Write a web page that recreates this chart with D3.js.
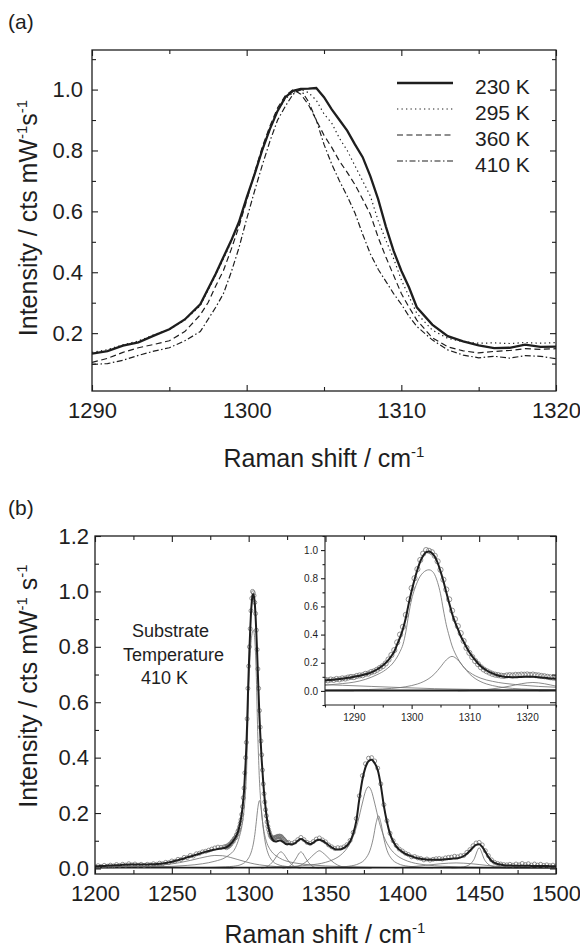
<!DOCTYPE html>
<html>
<head>
<meta charset="utf-8">
<script src="https://cdn.jsdelivr.net/npm/d3@7"></script>
<style>
  body { margin: 0; background: #fff; }
  svg text { font-family: "Liberation Sans", Arial, Helvetica, sans-serif; white-space: pre; }
</style>
</head>
<body>
<div id="chart"></div>
<script>
// ============================================================================
// Raman spectra: (a) temperature series, (b) 410 K spectrum with peak fit
// ============================================================================

// ---- panel (a) data -------------------------------------------------------
const shiftA = [1290, 1291, 1292, 1293, 1294, 1295, 1296, 1297, 1297.5, 1298, 1298.5, 1299, 1299.5,
  1300, 1300.5, 1301, 1301.5, 1302, 1302.5, 1303, 1303.5, 1304, 1304.5, 1305, 1305.5, 1306, 1306.5,
  1307, 1307.5, 1308, 1308.5, 1309, 1309.5, 1310, 1310.5, 1311, 1312, 1313, 1314, 1315, 1316, 1317,
  1318, 1319, 1320];
const int230 = [0.133, 0.141, 0.159, 0.170, 0.192, 0.213, 0.245, 0.295, 0.345, 0.395, 0.450, 0.504, 0.565,
  0.645, 0.720, 0.800, 0.870, 0.930, 0.975, 0.996, 1.002, 1.003, 1.005, 0.975, 0.935, 0.900, 0.865,
  0.820, 0.778, 0.715, 0.640, 0.550, 0.470, 0.405, 0.350, 0.285, 0.228, 0.190, 0.173, 0.160, 0.151, 0.152,
  0.162, 0.155, 0.156];
const int295 = [0.137, 0.146, 0.162, 0.174, 0.195, 0.212, 0.243, 0.290, 0.340, 0.390, 0.445, 0.500, 0.560,
  0.640, 0.720, 0.800, 0.870, 0.930, 0.970, 0.990, 1.000, 0.990, 0.965, 0.920, 0.890, 0.840, 0.800,
  0.750, 0.700, 0.650, 0.570, 0.505, 0.445, 0.375, 0.320, 0.265, 0.210, 0.183, 0.172, 0.167, 0.168, 0.166,
  0.169, 0.167, 0.169];
const int360 = [0.104, 0.117, 0.137, 0.152, 0.163, 0.175, 0.205, 0.260, 0.300, 0.355, 0.406, 0.475, 0.550,
  0.635, 0.725, 0.810, 0.880, 0.940, 0.980, 1.000, 0.985, 0.950, 0.900, 0.850, 0.810, 0.765, 0.728,
  0.688, 0.640, 0.590, 0.515, 0.450, 0.390, 0.330, 0.285, 0.243, 0.185, 0.155, 0.142, 0.135, 0.140, 0.143,
  0.149, 0.147, 0.149];
const int410 = [0.097, 0.100, 0.111, 0.127, 0.141, 0.152, 0.175, 0.205, 0.245, 0.285, 0.330, 0.400, 0.480,
  0.575, 0.665, 0.750, 0.830, 0.900, 0.945, 0.985, 1.000, 0.960, 0.900, 0.820, 0.755, 0.700, 0.650,
  0.595, 0.525, 0.460, 0.410, 0.370, 0.330, 0.295, 0.255, 0.222, 0.178, 0.145, 0.128, 0.119, 0.124, 0.118,
  0.126, 0.124, 0.116];
const tempLabels = ['230 K', '295 K', '360 K', '410 K'];
const ticksShiftA = [1290, 1300, 1310, 1320];
const minorShiftA = [1295, 1305, 1315];
const ticksIntA = [0.2, 0.4, 0.6, 0.8, 1.0];
const minorIntA = [0.1, 0.3, 0.5, 0.7, 0.9, 1.1];

// ---- panel (b) data: measured points and fit envelope ---------------------
const shiftLow = [1200, 1202, 1204, 1206, 1208, 1210, 1212, 1214, 1216, 1218, 1220, 1222, 1224, 1226,
  1228, 1230, 1232, 1234, 1236, 1238, 1240, 1242, 1244, 1246, 1248, 1250, 1252, 1254, 1256, 1258, 1260,
  1262, 1264, 1266, 1268, 1270, 1272, 1274, 1276, 1278, 1280, 1282, 1284];
const countsLow = [0.006, 0.010, 0.007, 0.011, 0.008, 0.012, 0.009, 0.014, 0.011, 0.015, 0.012, 0.017,
  0.013, 0.016, 0.012, 0.015, 0.011, 0.015, 0.013, 0.017, 0.015, 0.019, 0.017, 0.022, 0.021, 0.027, 0.026,
  0.033, 0.032, 0.040, 0.039, 0.047, 0.045, 0.053, 0.055, 0.060, 0.062, 0.066, 0.070, 0.074, 0.077, 0.076,
  0.078];
const fitLow = [0.008, 0.008, 0.009, 0.009, 0.010, 0.011, 0.011, 0.012, 0.012, 0.013, 0.013, 0.014,
  0.014, 0.014, 0.014, 0.014, 0.014, 0.014, 0.015, 0.015, 0.016, 0.017, 0.018, 0.020, 0.022, 0.024, 0.027,
  0.030, 0.033, 0.036, 0.040, 0.043, 0.046, 0.050, 0.053, 0.057, 0.060, 0.063, 0.066, 0.068, 0.070, 0.072,
  0.074];

const shiftPeak = [1285, 1285.5, 1286, 1286.5, 1287, 1287.5, 1288, 1288.5, 1289, 1289.5,
  1290, 1290.5, 1291, 1291.5, 1292, 1292.5, 1293, 1293.5, 1294, 1294.5,
  1295, 1295.5, 1296, 1296.5, 1297, 1297.5, 1298, 1298.5, 1299, 1299.5,
  1300, 1300.5, 1301, 1301.5, 1302, 1302.5, 1303, 1303.5, 1304, 1304.5,
  1305, 1305.5, 1306, 1306.5, 1307, 1307.5, 1308, 1308.5, 1309, 1309.5,
  1310, 1310.5, 1311, 1311.5, 1312, 1312.5, 1313, 1313.5, 1314, 1314.5,
  1315, 1315.5, 1316, 1316.5, 1317, 1317.5, 1318, 1318.5, 1319, 1319.5,
  1320, 1320.5, 1321, 1321.5, 1322, 1322.5, 1323, 1323.5, 1324, 1324.5, 1325];
const countsPeak = [0.079, 0.075, 0.081, 0.078, 0.085, 0.082, 0.089, 0.088, 0.095, 0.099,
  0.098, 0.106, 0.110, 0.111, 0.121, 0.123, 0.134, 0.139, 0.150, 0.163,
  0.176, 0.195, 0.223, 0.255, 0.290, 0.345, 0.400, 0.455, 0.540, 0.650,
  0.730, 0.800, 0.865, 0.930, 0.975, 1.000, 0.995, 0.985, 0.960, 0.920,
  0.860, 0.790, 0.720, 0.650, 0.570, 0.510, 0.460, 0.410, 0.355, 0.305,
  0.270, 0.240, 0.212, 0.190, 0.168, 0.152, 0.140, 0.130, 0.121, 0.115,
  0.112, 0.108, 0.106, 0.110, 0.112, 0.110, 0.114, 0.113, 0.116, 0.115,
  0.117, 0.114, 0.116, 0.112, 0.110, 0.106, 0.104, 0.100, 0.097, 0.094, 0.092];
const fitPeak = [0.075, 0.077, 0.078, 0.080, 0.082, 0.084, 0.087, 0.090, 0.093, 0.096,
  0.100, 0.104, 0.108, 0.113, 0.118, 0.124, 0.132, 0.141, 0.152, 0.165,
  0.180, 0.198, 0.220, 0.248, 0.280, 0.330, 0.380, 0.440, 0.520, 0.620,
  0.710, 0.790, 0.860, 0.920, 0.960, 0.985, 0.990, 0.980, 0.955, 0.910,
  0.850, 0.780, 0.700, 0.625, 0.550, 0.490, 0.440, 0.390, 0.350, 0.310,
  0.275, 0.245, 0.220, 0.195, 0.175, 0.158, 0.145, 0.134, 0.124, 0.116,
  0.110, 0.105, 0.101, 0.099, 0.098, 0.097, 0.097, 0.098, 0.099, 0.100,
  0.101, 0.101, 0.100, 0.099, 0.097, 0.095, 0.093, 0.091, 0.089, 0.088, 0.087];

const shiftHigh = [1326, 1328, 1330, 1332, 1334, 1336, 1338, 1340, 1342, 1344, 1346, 1348, 1350, 1352,
  1354, 1356, 1358, 1360, 1362, 1364, 1366, 1368, 1370, 1372, 1374, 1376, 1378, 1380, 1382, 1384, 1386,
  1388, 1390, 1392, 1394, 1396, 1398, 1400, 1402, 1404, 1406, 1408, 1410, 1412, 1414, 1416, 1418, 1420,
  1422, 1424, 1426, 1428, 1430, 1432, 1434, 1436, 1438, 1440, 1442, 1444, 1446, 1448, 1450, 1452, 1454,
  1456, 1458, 1460, 1462, 1464, 1466, 1468, 1470, 1472, 1474, 1476, 1478, 1480, 1482, 1484, 1486, 1488,
  1490, 1492, 1494, 1496, 1498, 1500];
const countsHigh = [0.094, 0.090, 0.095, 0.104, 0.112, 0.104, 0.094, 0.090, 0.097, 0.106,
  0.110, 0.103, 0.096, 0.085, 0.078, 0.072, 0.075, 0.074, 0.078, 0.086,
  0.101, 0.130, 0.180, 0.262, 0.335, 0.378, 0.398, 0.400, 0.388, 0.362,
  0.305, 0.230, 0.172, 0.127, 0.100, 0.083, 0.070, 0.063, 0.055, 0.050,
  0.042, 0.043, 0.038, 0.036, 0.031, 0.034, 0.030, 0.033, 0.035, 0.036,
  0.034, 0.038, 0.040, 0.041, 0.044, 0.042, 0.046, 0.047, 0.058, 0.068,
  0.082, 0.092, 0.094, 0.085, 0.064, 0.046, 0.031, 0.022, 0.018, 0.016,
  0.014, 0.013, 0.015, 0.012, 0.016, 0.013, 0.018, 0.014, 0.017, 0.012,
  0.016, 0.012, 0.015, 0.011, 0.013, 0.010, 0.012, 0.009];
const fitHigh = [0.088, 0.087, 0.091, 0.100, 0.106, 0.101, 0.092, 0.088, 0.093, 0.101,
  0.104, 0.100, 0.093, 0.084, 0.076, 0.070, 0.068, 0.069, 0.074, 0.083,
  0.097, 0.125, 0.170, 0.250, 0.320, 0.365, 0.387, 0.392, 0.380, 0.355,
  0.300, 0.225, 0.168, 0.125, 0.098, 0.080, 0.068, 0.060, 0.053, 0.048,
  0.044, 0.040, 0.037, 0.035, 0.033, 0.032, 0.031, 0.031, 0.031, 0.031,
  0.032, 0.033, 0.034, 0.035, 0.036, 0.037, 0.040, 0.045, 0.053, 0.064,
  0.076, 0.085, 0.087, 0.078, 0.060, 0.042, 0.028, 0.020, 0.016, 0.014,
  0.012, 0.011, 0.011, 0.010, 0.010, 0.010, 0.010, 0.010, 0.010, 0.009,
  0.009, 0.009, 0.009, 0.009, 0.009, 0.008, 0.008, 0.008];

// ---- panel (b) fitted components, [shift, intensity] ----------------------
const band1225 = [[1200, 0.004], [1212, 0.006], [1225, 0.008], [1240, 0.006], [1255, 0.004], [1270, 0.002], [1290, 0.001]];
const band1280 = [[1200, 0.002], [1220, 0.004], [1235, 0.008], [1245, 0.013], [1255, 0.021], [1262, 0.029],
  [1268, 0.037], [1273, 0.043], [1278, 0.047], [1283, 0.046], [1288, 0.040], [1293, 0.032], [1298, 0.024],
  [1304, 0.016], [1310, 0.011], [1318, 0.007], [1330, 0.004], [1350, 0.002], [1380, 0.001]];
const band1303 = [[1200, 0.003], [1240, 0.006], [1260, 0.011], [1270, 0.017], [1278, 0.026], [1285, 0.040],
  [1288, 0.052], [1290, 0.062], [1292, 0.082], [1294, 0.115], [1295.5, 0.150], [1297, 0.210], [1298, 0.280],
  [1298.5, 0.330], [1299, 0.420], [1299.5, 0.545], [1300, 0.650], [1300.5, 0.720], [1301, 0.775],
  [1301.5, 0.815], [1302, 0.840], [1302.5, 0.855], [1303, 0.860], [1303.5, 0.852], [1304, 0.825],
  [1304.5, 0.770], [1305, 0.690], [1305.5, 0.575], [1306, 0.470], [1306.5, 0.390], [1307, 0.320],
  [1307.5, 0.270], [1308, 0.230], [1309, 0.170], [1310, 0.133], [1311, 0.108], [1312, 0.090], [1314, 0.068],
  [1316, 0.054], [1318, 0.045], [1320, 0.038], [1322, 0.032], [1325, 0.026], [1330, 0.020], [1340, 0.013],
  [1360, 0.007], [1400, 0.003], [1500, 0.001]];
const band1307 = [[1270, 0.003], [1285, 0.006], [1290, 0.008], [1295, 0.014], [1298, 0.024], [1300, 0.038],
  [1301, 0.049], [1302, 0.065], [1303, 0.088], [1304, 0.122], [1305, 0.170], [1306, 0.220], [1307, 0.245],
  [1308, 0.220], [1309, 0.170], [1310, 0.122], [1311, 0.088], [1312, 0.065], [1313, 0.049], [1314, 0.038],
  [1316, 0.024], [1319, 0.014], [1325, 0.007], [1335, 0.003], [1350, 0.001]];
const band1321 = [[1308, 0.001], [1311, 0.004], [1313, 0.010], [1315, 0.020], [1317, 0.034], [1319, 0.051],
  [1321, 0.060], [1323, 0.051], [1325, 0.034], [1327, 0.020], [1329, 0.010], [1331, 0.004], [1334, 0.001]];
const band1334 = [[1322, 0.001], [1325, 0.004], [1327, 0.010], [1329, 0.021], [1331, 0.038], [1333, 0.056],
  [1334, 0.060], [1335, 0.056], [1337, 0.038], [1339, 0.021], [1341, 0.010], [1343, 0.004], [1346, 0.001]];
const band1346 = [[1325, 0.002], [1330, 0.005], [1334, 0.012], [1338, 0.027], [1341, 0.043], [1344, 0.058],
  [1346, 0.064], [1348, 0.058], [1351, 0.043], [1354, 0.027], [1358, 0.012], [1362, 0.005], [1367, 0.002]];
const band1378 = [[1300, 0.003], [1330, 0.008], [1340, 0.0125], [1350, 0.022], [1355, 0.032], [1360, 0.049],
  [1364, 0.073], [1368, 0.115], [1371, 0.167], [1374, 0.236], [1376, 0.278], [1378, 0.295], [1380, 0.278],
  [1382, 0.236], [1385, 0.167], [1388, 0.115], [1392, 0.073], [1396, 0.049], [1401, 0.032], [1406, 0.022],
  [1416, 0.0125], [1426, 0.008], [1450, 0.004], [1500, 0.001]];
const band1385 = [[1350, 0.002], [1365, 0.008], [1372, 0.018], [1376, 0.035], [1379, 0.066], [1381, 0.107],
  [1383, 0.166], [1384.5, 0.190], [1386, 0.166], [1388, 0.107], [1390, 0.066], [1393, 0.035], [1397, 0.018],
  [1404, 0.008], [1420, 0.002]];
const band1435 = [[1395, 0.002], [1405, 0.006], [1415, 0.011], [1425, 0.017], [1435, 0.020], [1445, 0.017],
  [1455, 0.011], [1465, 0.006], [1475, 0.002]];
const band1450 = [[1432, 0.002], [1438, 0.004], [1442, 0.009], [1445, 0.020], [1447, 0.037], [1448.5, 0.060],
  [1450, 0.075], [1451.5, 0.060], [1453, 0.037], [1455, 0.020], [1458, 0.009], [1462, 0.004], [1470, 0.002]];
const baselineB = [[1200, 0.003], [1500, 0.003]];

const ticksShiftB = [1200, 1250, 1300, 1350, 1400, 1450, 1500];
const minorShiftB = [1225, 1275, 1325, 1375, 1425, 1475];
const ticksIntB = [0.0, 0.2, 0.4, 0.6, 0.8, 1.0, 1.2];
const minorIntB = [0.1, 0.3, 0.5, 0.7, 0.9, 1.1];
const ticksShiftInset = [1290, 1300, 1310, 1320];
const minorShiftInset = [1285, 1295, 1305, 1315, 1325];
const ticksIntInset = [0.0, 0.2, 0.4, 0.6, 0.8, 1.0];
const minorIntInset = [-0.1, 0.1, 0.3, 0.5, 0.7, 0.9, 1.1];
const annotationLines = ['Substrate', 'Temperature', '410 K'];

// ---- setup -----------------------------------------------------------------
const INK = '#1e1e1e';
const GREY = '#6e6e6e';
const svg = d3.select('#chart').append('svg').attr('width', 580).attr('height', 952);

function addAxis(parent, axis, transform, fontSize) {
  const a = parent.append('g').attr('transform', transform).call(axis);
  a.select('.domain').remove();
  a.selectAll('line').attr('stroke', INK).attr('stroke-width', 1.1);
  a.selectAll('text').attr('font-size', fontSize + 'px').attr('fill', INK)
    .attr('font-family', '"Liberation Sans", Arial, sans-serif');
  return a;
}

// text with "-1" superscripts
function richText(sel, parts, size) {
  parts.forEach(p => {
    const t = sel.append('tspan').text(p.t);
    if (p.sup) t.attr('font-size', Math.round(size * 0.6) + 'px').attr('dy', -size * 0.42);
    else if (p.after) t.attr('dy', size * 0.42);
  });
}

function frameBox(x, y, ticks) {
  const g = svg.append('g');
  const [xl, xr] = x.range(), [yb, yt] = y.range();
  addAxis(g, d3.axisBottom(x).tickValues(ticks.xMajor).tickSize(-6).tickPadding(ticks.xPad).tickFormat(d3.format('d')), `translate(0,${yb})`, 22);
  addAxis(g, d3.axisBottom(x).tickValues(ticks.xMinor).tickSize(-4).tickFormat(''), `translate(0,${yb})`, 22);
  addAxis(g, d3.axisTop(x).tickValues(ticks.xMajor).tickSize(-6).tickFormat(''), `translate(0,${yt})`, 22);
  addAxis(g, d3.axisTop(x).tickValues(ticks.xMinor).tickSize(-4).tickFormat(''), `translate(0,${yt})`, 22);
  addAxis(g, d3.axisLeft(y).tickValues(ticks.yMajor).tickSize(-6).tickPadding(ticks.yPad).tickFormat(d3.format('.1f')), `translate(${xl},0)`, 22);
  addAxis(g, d3.axisLeft(y).tickValues(ticks.yMinor).tickSize(-4).tickFormat(''), `translate(${xl},0)`, 22);
  addAxis(g, d3.axisRight(y).tickValues(ticks.yMajor).tickSize(-6).tickFormat(''), `translate(${xr},0)`, 22);
  addAxis(g, d3.axisRight(y).tickValues(ticks.yMinor).tickSize(-4).tickFormat(''), `translate(${xr},0)`, 22);
  g.append('rect').attr('x', xl).attr('y', yt).attr('width', xr - xl).attr('height', yb - yt)
    .attr('fill', 'none').attr('stroke', INK).attr('stroke-width', 1.3);
}

function clipRect(id, x, y) {
  const [xl, xr] = x.range(), [yb, yt] = y.range();
  svg.append('clipPath').attr('id', id).append('rect')
    .attr('x', xl).attr('y', yt).attr('width', xr - xl).attr('height', yb - yt);
}

// ---- panel (a) -------------------------------------------------------------
const xA = d3.scaleLinear().domain([1290, 1320]).range([92, 556]);
const yA = d3.scaleLinear().domain([0.01, 1.13]).range([391, 50]);
clipRect('clipA', xA, yA);

const seriesA = [
  { label: tempLabels[0], values: int230, width: 2.3, dash: null },
  { label: tempLabels[1], values: int295, width: 1.2, dash: '1.3 3.2' },
  { label: tempLabels[2], values: int360, width: 1.2, dash: '6 3.5' },
  { label: tempLabels[3], values: int410, width: 1.2, dash: '6 2.5 1.5 2.5' }
];

const lineA = d3.line().x((d, i) => xA(shiftA[i])).y(d => yA(d));
const plotA = svg.append('g').attr('clip-path', 'url(#clipA)');
seriesA.forEach(s => {
  plotA.append('path').datum(s.values)
    .attr('d', lineA).attr('fill', 'none')
    .attr('stroke', INK).attr('stroke-width', s.width)
    .attr('stroke-dasharray', s.dash);
});

frameBox(xA, yA, { xMajor: ticksShiftA, xMinor: minorShiftA, yMajor: ticksIntA, yMinor: minorIntA, xPad: 11, yPad: 9 });

// legend
const legendA = svg.append('g');
seriesA.forEach((s, i) => {
  const yy = 87 + i * 26;
  legendA.append('line').attr('x1', 397).attr('x2', 453).attr('y1', yy - 4).attr('y2', yy - 4)
    .attr('stroke', INK).attr('stroke-width', s.width).attr('stroke-dasharray', s.dash);
  legendA.append('text').attr('x', 475).attr('y', yy).attr('dy', '0.35em')
    .attr('font-size', '21px').attr('fill', INK).text(s.label);
});

svg.append('text').attr('x', 8).attr('y', 29).attr('font-size', '21px').attr('fill', INK).text('(a)');

richText(svg.append('text').attr('x', 324).attr('y', 467).attr('text-anchor', 'middle')
  .attr('font-size', '25px').attr('fill', INK),
  [{ t: 'Raman shift / cm' }, { t: '-1', sup: true }], 25);

richText(svg.append('text').attr('transform', 'translate(37,218) rotate(-90)').attr('text-anchor', 'middle')
  .attr('font-size', '25px').attr('fill', INK),
  [{ t: 'Intensity / cts mW' }, { t: '-1', sup: true }, { t: 's', after: true }, { t: '-1', sup: true }], 25);

// ---- panel (b) -------------------------------------------------------------
const xB = d3.scaleLinear().domain([1200, 1500]).range([95, 556]);
const yB = d3.scaleLinear().domain([-0.02, 1.2]).range([874, 536]);
clipRect('clipB', xB, yB);

const shiftB = shiftLow.concat(shiftPeak, shiftHigh);
const countsB = countsLow.concat(countsPeak, countsHigh);
const fitB = fitLow.concat(fitPeak, fitHigh);
const measured = shiftB.map((s, i) => [s, countsB[i]]);
const fitted = shiftB.map((s, i) => [s, fitB[i]]);
const bands = [band1225, band1280, band1303, band1307, band1321, band1334, band1346, band1378, band1385, band1435, band1450];

function drawSpectrum(parent, x, y, r) {
  const line = d3.line().x(d => x(d[0])).y(d => y(d[1])).curve(d3.curveMonotoneX);
  bands.forEach(b => {
    parent.append('path').datum(b).attr('d', line).attr('fill', 'none')
      .attr('stroke', GREY).attr('stroke-width', 0.8);
  });
  parent.append('path').datum(baselineB).attr('d', line).attr('fill', 'none')
    .attr('stroke', INK).attr('stroke-width', 1.8);
  parent.selectAll('circle.pt').data(measured).join('circle')
    .attr('class', 'pt')
    .attr('cx', d => x(d[0])).attr('cy', d => y(d[1])).attr('r', r)
    .attr('fill', 'none').attr('stroke', '#707070').attr('stroke-width', 0.75);
  parent.append('path').datum(fitted).attr('d', line).attr('fill', 'none')
    .attr('stroke', INK).attr('stroke-width', 2);
}

drawSpectrum(svg.append('g').attr('clip-path', 'url(#clipB)'), xB, yB, 2);

// inset: 1285-1325 cm-1 zoom
const xI = d3.scaleLinear().domain([1285, 1325]).range([325, 556]);
const yI = d3.scaleLinear().domain([-0.1, 1.1]).range([705, 536]);
svg.append('rect').attr('x', 325).attr('y', 536).attr('width', 231).attr('height', 169).attr('fill', '#fff');
clipRect('clipI', xI, yI);
drawSpectrum(svg.append('g').attr('clip-path', 'url(#clipI)'), xI, yI, 2.6);

const inset = svg.append('g');
addAxis(inset, d3.axisLeft(yI).tickValues(ticksIntInset).tickSize(4).tickPadding(3).tickFormat(d3.format('.1f')), 'translate(325,0)', 10);
addAxis(inset, d3.axisLeft(yI).tickValues(minorIntInset).tickSize(2.5).tickFormat(''), 'translate(325,0)', 10);
addAxis(inset, d3.axisBottom(xI).tickValues(ticksShiftInset).tickSize(4).tickPadding(5).tickFormat(d3.format('d')), 'translate(0,705)', 10);
addAxis(inset, d3.axisBottom(xI).tickValues(minorShiftInset).tickSize(2.5).tickFormat(''), 'translate(0,705)', 10);
inset.append('path').attr('d', 'M325,536V705H556').attr('fill', 'none').attr('stroke', INK).attr('stroke-width', 1.1);

frameBox(xB, yB, { xMajor: ticksShiftB, xMinor: minorShiftB, yMajor: ticksIntB, yMinor: minorIntB, xPad: 11, yPad: 6 });

// annotation
const annoX = [132, 123, 141];
annotationLines.forEach((t, i) => {
  svg.append('text').attr('x', annoX[i]).attr('y', 637 + i * 23.5)
    .attr('font-size', '18px').attr('fill', INK).text(t);
});

svg.append('text').attr('x', 8).attr('y', 515).attr('font-size', '21px').attr('fill', INK).text('(b)');

richText(svg.append('text').attr('x', 325).attr('y', 943).attr('text-anchor', 'middle')
  .attr('font-size', '25px').attr('fill', INK),
  [{ t: 'Raman shift / cm' }, { t: '-1', sup: true }], 25);

richText(svg.append('text').attr('transform', 'translate(37,686) rotate(-90)').attr('text-anchor', 'middle')
  .attr('font-size', '25px').attr('fill', INK),
  [{ t: 'Intensity / cts mW' }, { t: '-1', sup: true }, { t: ' s', after: true }, { t: '-1', sup: true }], 25);
</script>
</body>
</html>
